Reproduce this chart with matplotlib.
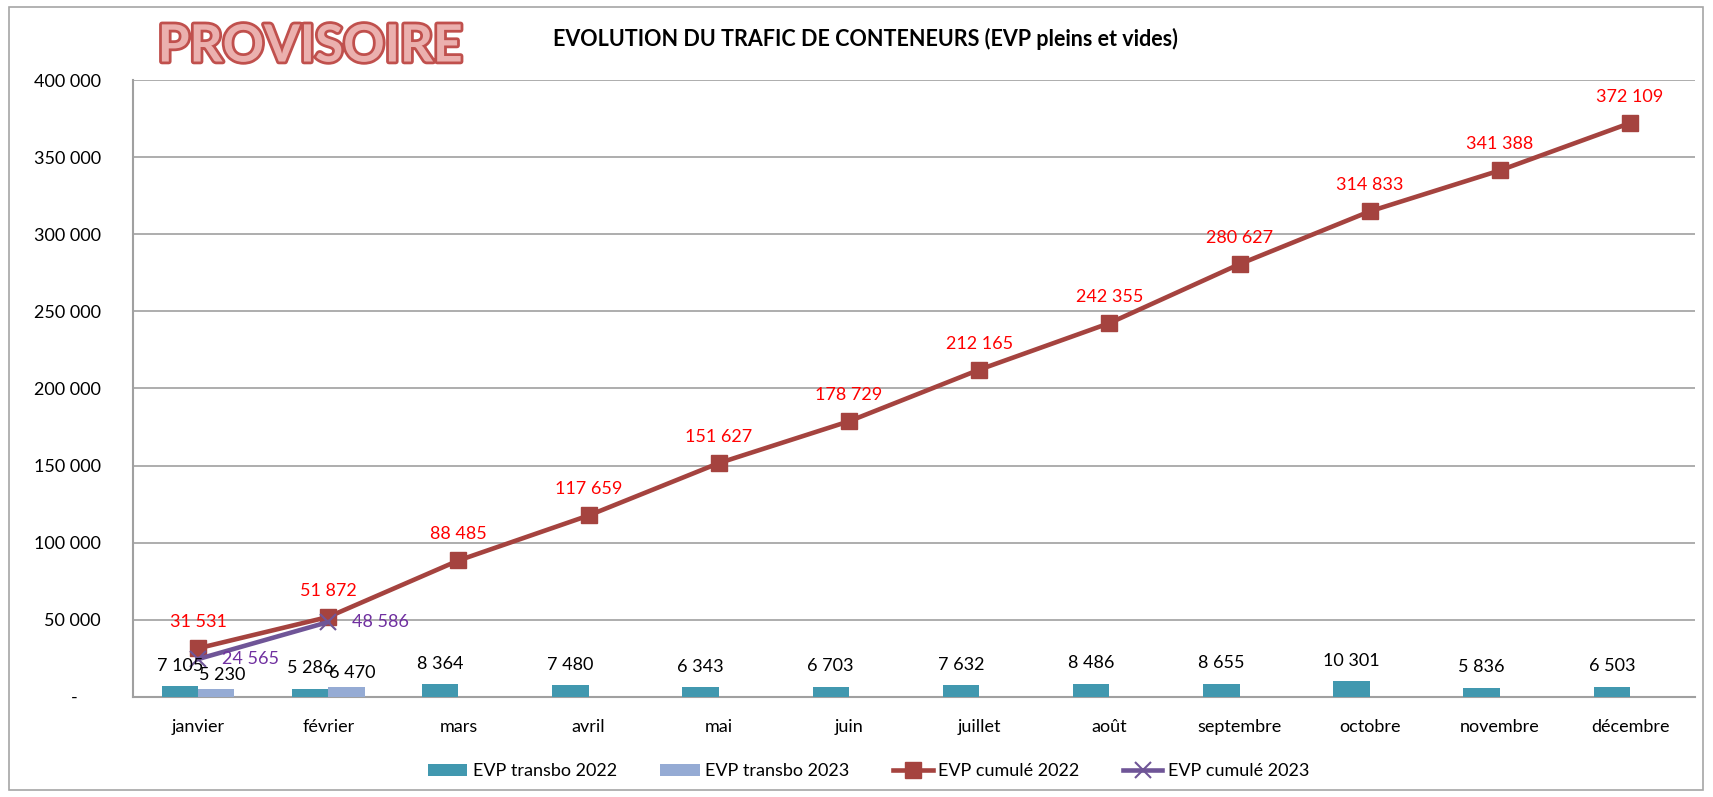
import matplotlib
matplotlib.use("Agg")
import matplotlib.pyplot as plt
import matplotlib.patheffects as pe
from matplotlib.patches import Rectangle
import numpy as np

plt.rcParams["font.family"] = ["Lato", "DejaVu Sans"]

months = ["janvier", "février", "mars", "avril", "mai", "juin", "juillet",
          "août", "septembre", "octobre", "novembre", "décembre"]
transbo_2022 = [7105, 5286, 8364, 7480, 6343, 6703, 7632, 8486, 8655, 10301, 5836, 6503]
transbo_2023 = [5230, 6470]
cumul_2022 = [31531, 51872, 88485, 117659, 151627, 178729, 212165, 242355,
              280627, 314833, 341388, 372109]
cumul_2023 = [24565, 48586]
yticks = [0, 50000, 100000, 150000, 200000, 250000, 300000, 350000, 400000]


def fmt(v):
    return f"{v:,}".replace(",", " ")


C_T22 = "#4198AF"
C_T23 = "#95ABD4"
C_C22 = "#A5433F"
C_C23 = "#6F5597"

fig = plt.figure(figsize=(17.13, 7.97), dpi=100)
ax = fig.add_axes([0.0776, 0.1255, 0.912, 0.7741])

# cadre général
fig.patches.append(Rectangle((0.005, 0.009), 0.989, 0.982, transform=fig.transFigure,
                             fill=False, edgecolor="#A6A6A6", linewidth=1.2))

x = np.arange(len(months))
bw = 0.28
ax.bar(x - bw / 2, transbo_2022, width=bw, color=C_T22, zorder=3, label="EVP transbo 2022")
x23 = x[:len(transbo_2023)]
ax.bar(x23 + bw / 2, transbo_2023, width=bw, color=C_T23, zorder=3, label="EVP transbo 2023")

ax.plot(x, cumul_2022, color=C_C22, lw=3.3, marker="s", ms=11, zorder=5, label="EVP cumulé 2022")
ax.plot(x23, cumul_2023, color=C_C23, lw=3.3, marker="x", ms=11, mew=1.5, zorder=6,
        label="EVP cumulé 2023")

# étiquettes
for xi, v in zip(x, transbo_2022):
    ax.annotate(fmt(v), (xi - bw / 2, v), xytext=(0, 9), textcoords="offset points",
                ha="center", va="bottom", fontsize=13, color="black", zorder=7)
for xi, v in zip(x23, transbo_2023):
    ax.annotate(fmt(v), (xi + bw / 2, v), xytext=(4, 4), textcoords="offset points",
                ha="center", va="bottom", fontsize=13, color="black", zorder=7)
for xi, v in zip(x, cumul_2022):
    ax.annotate(fmt(v), (xi, v), xytext=(0, 13), textcoords="offset points",
                ha="center", va="bottom", fontsize=13, color="#FF0000", zorder=7)
for xi, v in zip(x23, cumul_2023):
    ax.annotate(fmt(v), (xi, v), xytext=(17, 0), textcoords="offset points",
                ha="left", va="center", fontsize=13, color="#7030A0", zorder=7)

ax.set_xlim(-0.5, len(months) - 0.5)
ax.set_ylim(0, 400000)
ax.set_yticks(yticks)
ax.set_yticklabels([fmt(v) if v else "-     " for v in yticks], fontsize=13)
ax.set_xticks(x)
ax.set_xticklabels(months, fontsize=13)
ax.tick_params(axis="y", length=0, pad=23)
ax.tick_params(axis="x", length=0, pad=16)
ax.grid(axis="y", color="#A0A0A0", linewidth=1.2, zorder=0)
ax.set_axisbelow(True)
for s in ["top", "right"]:
    ax.spines[s].set_visible(False)
for s in ["left", "bottom"]:
    ax.spines[s].set_color("#A0A0A0")
    ax.spines[s].set_linewidth(1.5)

fig.text(0.505, 0.951, "EVOLUTION DU TRAFIC DE CONTENEURS (EVP pleins et vides)",
         ha="center", va="center", fontsize=15.5, fontweight="bold")
fig.text(0.181, 0.941, "PROVISOIRE", ha="center", va="center", fontsize=37,
         fontweight="bold", color="#EBB0AE",
         path_effects=[pe.withStroke(linewidth=4, foreground="#C0504D")])

h, l = ax.get_legend_handles_labels()
order = [2, 3, 0, 1]
fig.legend([h[i] for i in order], [l[i] for i in order],
           loc="center", bbox_to_anchor=(0.507, 0.032), ncol=4, frameon=False,
           fontsize=13, handlelength=2.2, columnspacing=2.4, handletextpad=0.3)

fig.savefig("out.png", dpi=100)
